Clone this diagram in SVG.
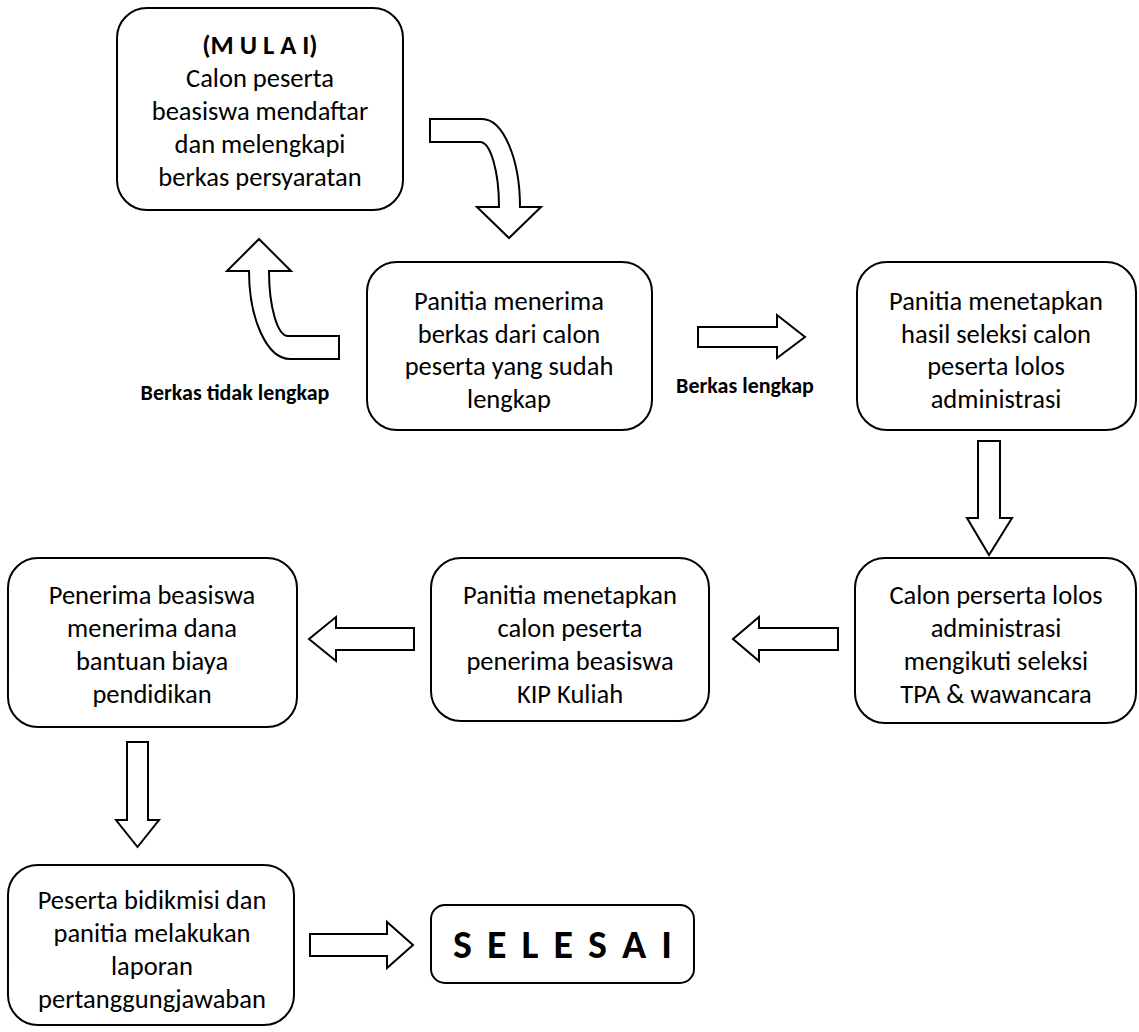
<svg xmlns="http://www.w3.org/2000/svg" width="1139" height="1032" viewBox="0 0 1139 1032">
<style>
.box{fill:#fff;stroke:#000;stroke-width:2}
.arr{fill:#fff;stroke:#000;stroke-width:2;stroke-linejoin:miter}
text{font-family:Carlito,Calibri,Lato,"Liberation Sans",sans-serif;font-size:26.5px;fill:#000;text-anchor:middle}
.b{font-weight:bold}
.lbl{font-size:22px;font-weight:bold}
.end{font-size:40px;font-weight:bold;letter-spacing:3px}
</style>
<rect width="1139" height="1032" fill="#fff"/>
<g id="connectors">
<path class="arr" d="M430,119 L482,119 A38,88 0 0 1 520,207 L541,207 L509,238 L477,207 L499,207 A19,65 0 0 0 480,142 L430,142 Z"/>
<path class="arr" d="M259,239 L291,271 L269,271 A19,65 0 0 0 288,336 L339,336 L339,359 L290,359 A41,88 0 0 1 249,271 L227,271 Z"/>
<path class="arr" d="M698,327 L777,327 L777,315 L805,337 L777,358 L777,347 L698,347 Z"/>
<path class="arr" d="M978,441 L1000,441 L1000,518 L1012,518 L989,555 L967,518 L978,518 Z"/>
<path class="arr" d="M838,628 L759,628 L759,617 L733,639 L759,661 L759,650 L838,650 Z"/>
<path class="arr" d="M414,628 L336,628 L336,617 L309,639 L336,661 L336,650 L414,650 Z"/>
<path class="arr" d="M127,742 L148,742 L148,820 L159,820 L137.5,847 L116,820 L127,820 Z"/>
<path class="arr" d="M310,934 L387,934 L387,922 L413,945 L387,968 L387,956 L310,956 Z"/>
<text class="lbl" x="235" y="400">Berkas tidak lengkap</text>
<text class="lbl" x="745" y="393">Berkas lengkap</text>
</g>
<g id="n1">
<rect class="box" x="117" y="8" width="286" height="202" rx="30"/>
<text x="260" y="54" class="b">(M U L A I)</text>
<text x="260" y="87">Calon peserta</text>
<text x="260" y="120">beasiswa mendaftar</text>
<text x="260" y="153">dan melengkapi</text>
<text x="260" y="186">berkas persyaratan</text>
</g>
<g id="n2">
<rect class="box" x="367" y="262" width="285" height="168" rx="30"/>
<text x="509" y="310">Panitia menerima</text>
<text x="509" y="343">berkas dari calon</text>
<text x="509" y="375">peserta yang sudah</text>
<text x="509" y="408">lengkap</text>
</g>
<g id="n3">
<rect class="box" x="857" y="262" width="279" height="168" rx="30"/>
<text x="996" y="310">Panitia menetapkan</text>
<text x="996" y="343">hasil seleksi calon</text>
<text x="996" y="375">peserta lolos</text>
<text x="996" y="408">administrasi</text>
</g>
<g id="n4">
<rect class="box" x="855" y="558" width="281" height="165" rx="30"/>
<text x="996" y="604">Calon perserta lolos</text>
<text x="996" y="637">administrasi</text>
<text x="996" y="670">mengikuti seleksi</text>
<text x="996" y="703">TPA &amp; wawancara</text>
</g>
<g id="n5">
<rect class="box" x="431" y="558" width="278" height="163" rx="30"/>
<text x="570" y="604">Panitia menetapkan</text>
<text x="570" y="637">calon peserta</text>
<text x="570" y="670">penerima beasiswa</text>
<text x="570" y="703">KIP Kuliah</text>
</g>
<g id="n6">
<rect class="box" x="8" y="558" width="289" height="169" rx="30"/>
<text x="152" y="604">Penerima beasiswa</text>
<text x="152" y="637">menerima dana</text>
<text x="152" y="670">bantuan biaya</text>
<text x="152" y="703">pendidikan</text>
</g>
<g id="n7">
<rect class="box" x="8" y="865" width="286" height="160" rx="30"/>
<text x="152" y="909">Peserta bidikmisi dan</text>
<text x="152" y="942">panitia melakukan</text>
<text x="152" y="975">laporan</text>
<text x="152" y="1008">pertanggungjawaban</text>
</g>
<g id="n8">
<rect class="box" x="431" y="905" width="263" height="78" rx="14"/>
<text x="564" y="958" class="end">S E L E S A I</text>
</g>
</svg>
